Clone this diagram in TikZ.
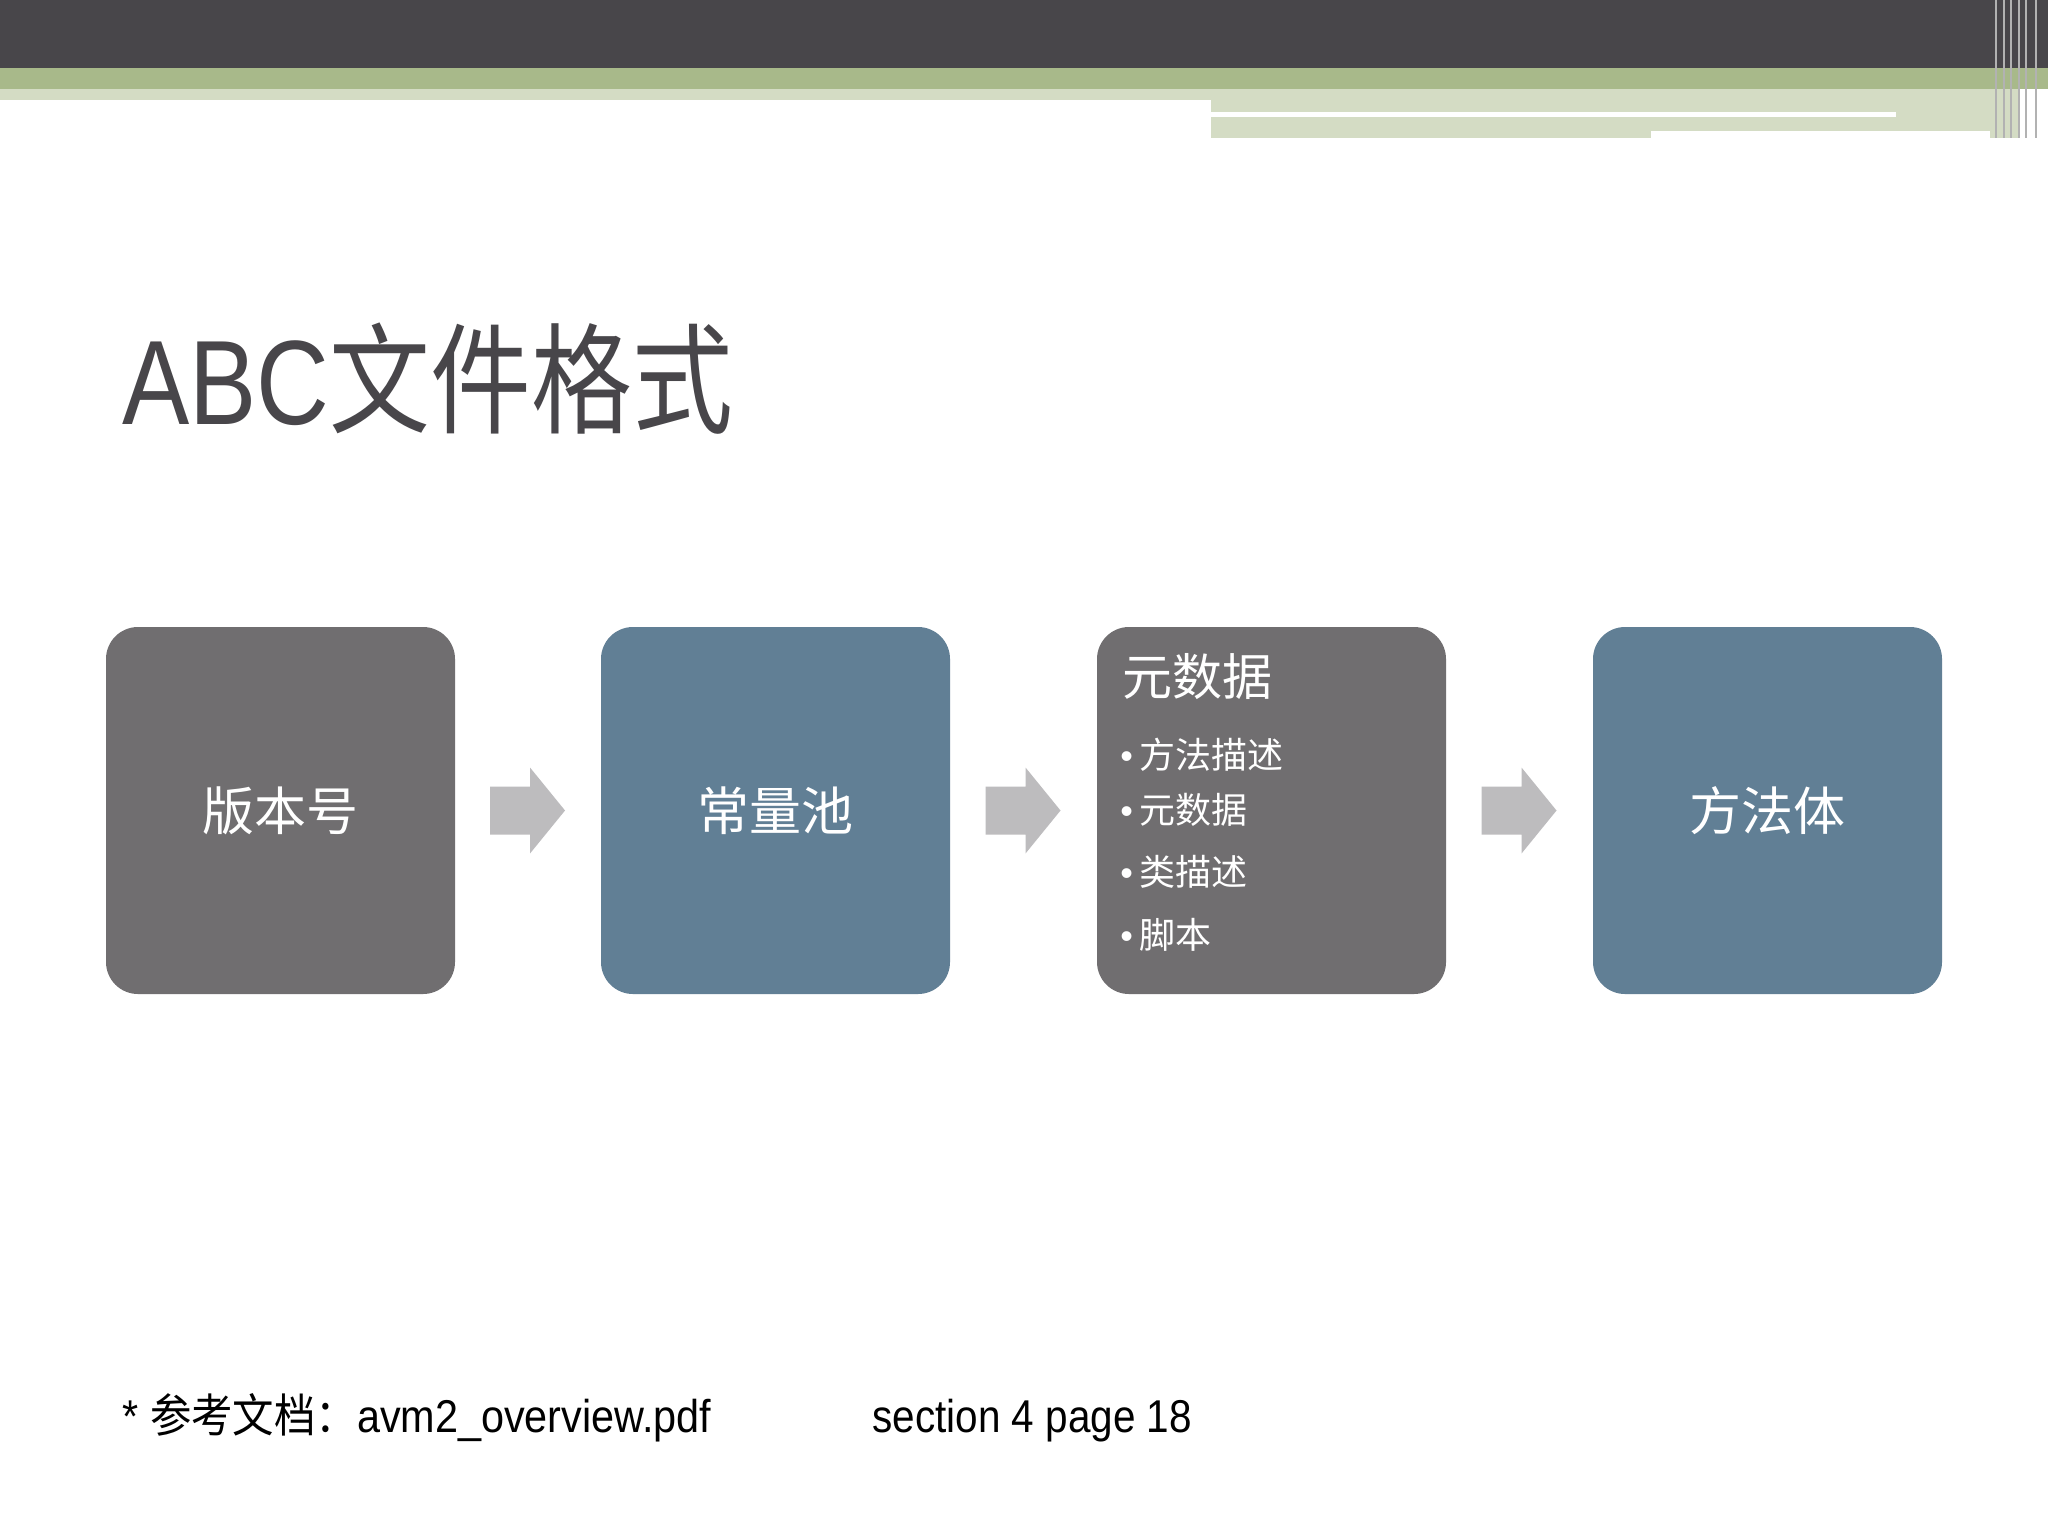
\documentclass[tikz,border=0pt]{standalone}
\usepackage{fontspec}
\setmainfont{Liberation Sans}
\newfontfamily\cjk{Noto Sans CJK SC}
\definecolor{dk}{HTML}{48464A}
\definecolor{gr}{HTML}{A8B98A}
\definecolor{lg}{HTML}{D4DCC4}
\definecolor{bx}{HTML}{706E70}
\definecolor{bl}{HTML}{617F95}
\definecolor{ar}{HTML}{BDBCBE}
\tikzset{box/.style={fill=#1,rounded corners=16pt,minimum width=174.5pt,minimum height=183.5pt,text=white,font=\cjk\fontsize{26}{30}\selectfont},
arr/.style={fill=ar,draw=none}}
\begin{document}
\begin{tikzpicture}[x=0.5pt,y=-0.5pt]
\useasboundingbox (0,0) rectangle (2048,1536);
\fill[white] (0,0) rectangle (2048,1536);
\fill[dk] (0,0) rectangle (2048,68);
\fill[gr] (0,68) rectangle (2048,89);
\fill[lg] (0,89) rectangle (1211,100);
\fill[lg] (1211,89) rectangle (2020,138);
\fill[white] (1211,112) rectangle (1896,117);
\fill[white] (1651,131) rectangle (1990,138);
\foreach \x in {1995,2003,2010,2018,2025,2035}{\fill[gray!60] (\x,0) rectangle ++(2,138);}
\node[anchor=base west,text=dk,font=\fontsize{60}{66}\selectfont,inner sep=0] (t) at (122,424) {\scalebox{0.84}[1]{ABC{\cjk 文件格式}}};
\node[box=bx] (b1) at (280.5,810.5) {版本号};
\node[box=bl] (b2) at (775.5,810.5) {常量池};
\node[box=bx] (b3) at (1271.5,810.5) {};
\node[box=bl] (b4) at (1767.5,810.5) {方法体};
\node[anchor=west,text=white,font=\cjk\fontsize{25}{30}\selectfont,inner sep=0] (h3) at (1122,677) {元数据};
\foreach \y/\t [count=\i] in {755/方法描述,810/元数据,872/类描述,935/脚本}
  \node[anchor=west,text=white,font=\fontsize{18}{22}\selectfont,inner sep=0] (i\i) at (1120,\y) {•\hspace{3pt}{\cjk\t}};
\foreach \a/\b in {b1/b2,b2/b3,b3/b4}{
  \path (\a.east) -- (\b.west) coordinate[pos=0.5] (m);
  \fill[arr] ([shift={(-38,-24)}]m) -- ([shift={(2,-24)}]m) -- ([shift={(2,-43)}]m) -- ([shift={(37,0)}]m) -- ([shift={(2,43)}]m) -- ([shift={(2,24)}]m) -- ([shift={(-38,24)}]m) -- cycle;}
\node[anchor=base west,inner sep=0,font=\fontsize{23}{26}\selectfont] (f1) at (122,1432) {\scalebox{0.9}[1]{* {\cjk 参考文档：}avm2\_overview.pdf}};
\node[anchor=base west,inner sep=0,font=\fontsize{23}{26}\selectfont] (f2) at (872,1432) {\scalebox{0.88}[1]{section 4 page 18}};
\end{tikzpicture}
\end{document}
